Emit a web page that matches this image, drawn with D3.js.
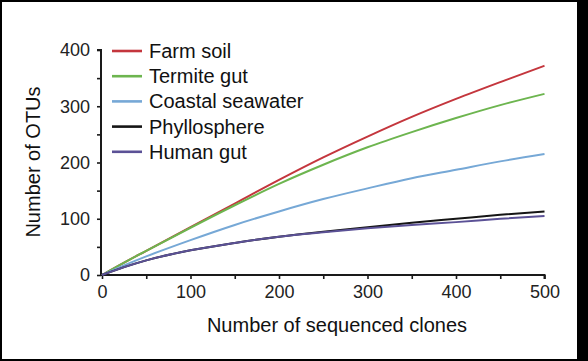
<!DOCTYPE html>
<html>
<head>
<meta charset="utf-8">
<script src="https://cdn.jsdelivr.net/npm/d3@7"></script>
<style>
  html, body { margin: 0; padding: 0; background: #fff; }
  svg { display: block; font-family: "Liberation Sans", Arial, sans-serif; }
</style>
</head>
<body>
<svg id="chart" width="588" height="361"></svg>
<script>
// ---- data ----
const clones = [0, 25, 50, 100, 150, 200, 250, 300, 350, 400, 450, 500];
const farmSoil = [0, 22, 43, 85, 127, 169, 209, 246, 281, 313, 343, 372];
const termiteGut = [0, 22, 43, 84, 124, 162, 196, 227, 254, 279, 302, 322];
const coastalSeawater = [0, 17, 33, 62, 89, 113, 135, 154, 172, 187, 202, 215];
const phyllosphere = [0, 14, 26, 44, 57, 68, 77, 85, 93, 100, 107, 113];
const humanGut = [0, 14, 26, 44, 57, 68, 76, 83, 89, 94, 100, 105];
const seriesNames = ["Farm soil", "Termite gut", "Coastal seawater", "Phyllosphere", "Human gut"];
const seriesValues = [farmSoil, termiteGut, coastalSeawater, phyllosphere, humanGut];
const seriesColors = ["#c4363d", "#6db54f", "#76a8d6", "#151515", "#5b5196"];
const xTicks = [0, 100, 200, 300, 400, 500];
const yTicks = [0, 100, 200, 300, 400];
const yMinorTicks = [50, 150, 250, 350];
const xMinorTicks = [50, 150, 250, 350, 450];

const svg = d3.select("#chart");
// frame
svg.append("rect").attr("x", 0).attr("y", 0).attr("width", 588).attr("height", 361).attr("fill", "#000");
svg.append("rect").attr("x", 2).attr("y", 2).attr("width", 575).attr("height", 357).attr("fill", "#fff");

const x = d3.scaleLinear().domain([0, 500]).range([102, 544.5]);
const y = d3.scaleLinear().domain([0, 400]).range([275, 50]);

const axisColor = "#1a1a1a";

// y axis
const yAxisG = svg.append("g").attr("transform", `translate(${x(0) - 1},0)`);
yAxisG.call(d3.axisLeft(y).tickValues(yTicks).tickSize(4).tickPadding(7).tickFormat(d3.format("d")));
yAxisG.append("g").call(d3.axisLeft(y).tickValues(yMinorTicks).tickSize(4).tickFormat(""))
  .select(".domain").remove();

// x axis
const xAxisG = svg.append("g").attr("transform", `translate(0,${y(0)})`);
xAxisG.call(d3.axisBottom(x).tickValues(xTicks).tickSize(4).tickPadding(6).tickFormat(d3.format("d")));
xAxisG.append("g").call(d3.axisBottom(x).tickValues(xMinorTicks).tickSize(4).tickFormat(""))
  .select(".domain").remove();

svg.selectAll(".domain").attr("stroke", axisColor).attr("stroke-width", 2);
svg.selectAll(".tick line").attr("stroke", axisColor).attr("stroke-width", 1.6);
svg.selectAll(".tick text").attr("fill", "#222").style("font-size", "18px")
  .style("font-family", "'Liberation Sans', Arial, sans-serif");
yAxisG.selectAll(".domain").attr("d", `M-4,${y(400)}H0V${y(0)}`);
xAxisG.selectAll(".domain").attr("d", `M${x(0) - 1},0H${x(500)}V4`);

// lines
const line = d3.line().x((d, i) => x(clones[i])).y(d => y(d)).curve(d3.curveMonotoneX);
seriesValues.forEach((vals, k) => {
  svg.append("path").datum(vals).attr("d", line)
    .attr("fill", "none").attr("stroke", seriesColors[k]).attr("stroke-width", 2);
});

// legend
const legend = svg.append("g");
seriesNames.forEach((name, k) => {
  const ly = 51 + k * 25.2;
  legend.append("line").attr("x1", 112).attr("x2", 142).attr("y1", ly).attr("y2", ly)
    .attr("stroke", seriesColors[k]).attr("stroke-width", 2.6);
  legend.append("text").attr("x", 149).attr("y", ly + 7).text(name)
    .attr("fill", "#111").style("font-size", "20px");
});

// axis titles
svg.append("text").attr("x", 337).attr("y", 332).attr("text-anchor", "middle")
  .style("font-size", "20px").attr("fill", "#111").text("Number of sequenced clones");
svg.append("text").attr("transform", "translate(40,162) rotate(-90)").attr("text-anchor", "middle")
  .style("font-size", "20px").attr("fill", "#111").text("Number of OTUs");
</script>
</body>
</html>
